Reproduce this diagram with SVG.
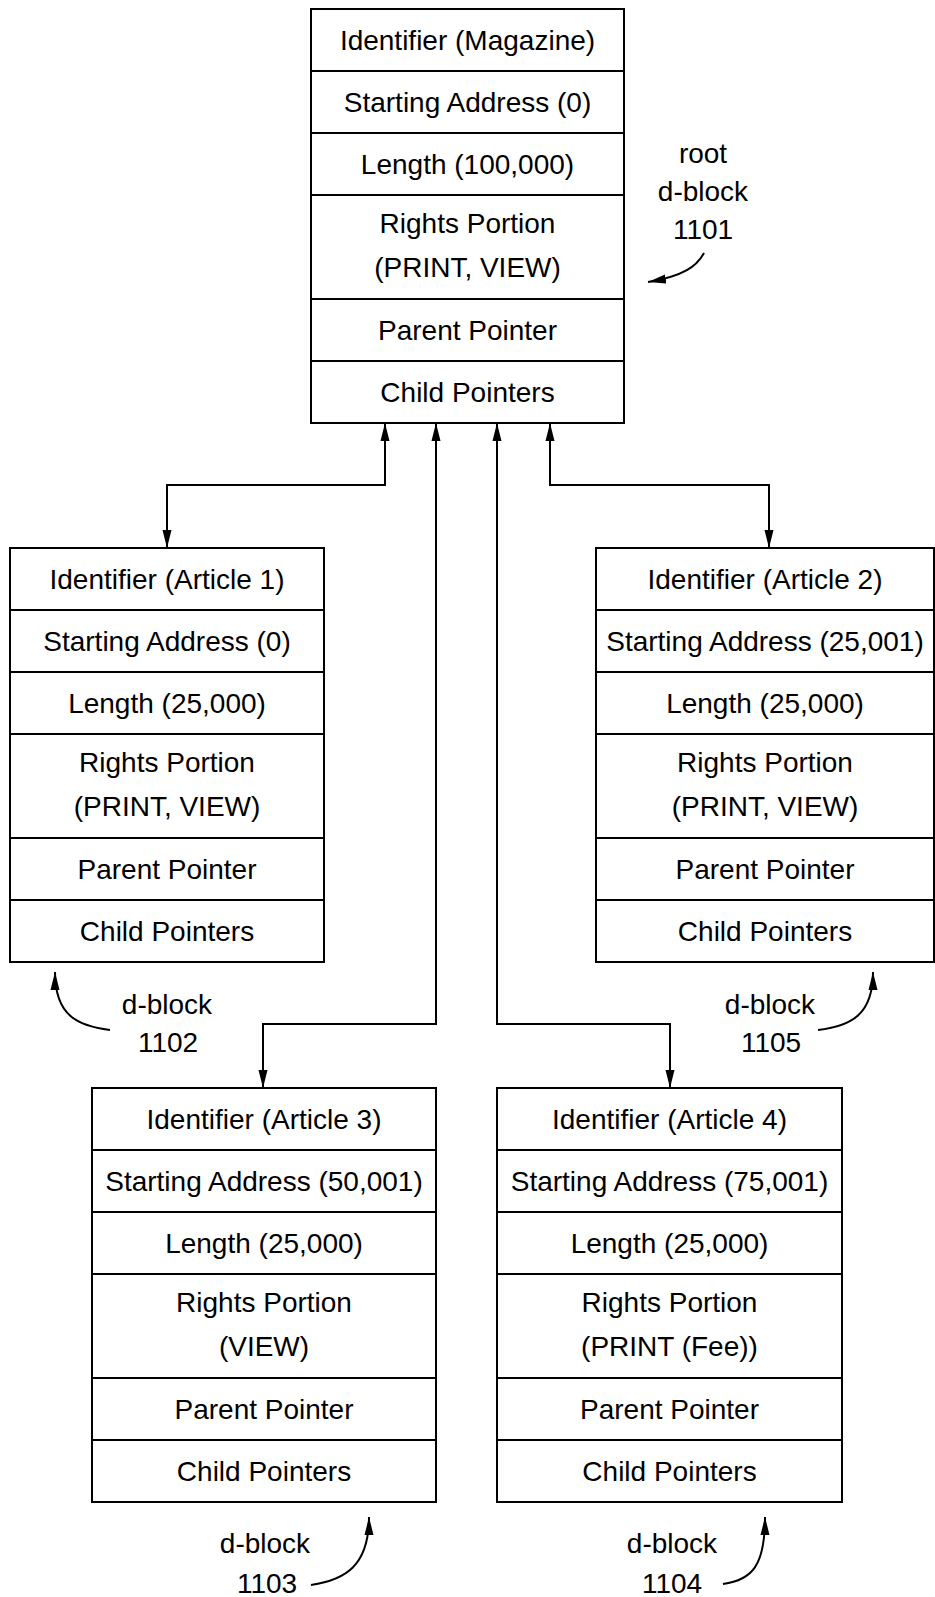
<svg xmlns="http://www.w3.org/2000/svg" width="935" height="1597" viewBox="0 0 935 1597">
<style>
.box{fill:#fff;stroke:#000;stroke-width:2}
.sep{stroke:#000;stroke-width:2}
.t{font-family:"Liberation Sans",Arial,sans-serif;font-size:28px;fill:#000;text-anchor:middle}
.wire{fill:none;stroke:#000;stroke-width:2}
</style>
<defs>
<marker id="ah" markerUnits="userSpaceOnUse" viewBox="0 0 18 10" markerWidth="18" markerHeight="10" refX="18" refY="5" orient="auto-start-reverse">
<path d="M0,0.5 L18,5 L0,9.5 z" fill="#000"/>
</marker>
</defs>
<rect width="935" height="1597" fill="#fff"/>

<g id="root-1101" transform="translate(311,9)">
<rect class="box" x="0" y="0" width="313" height="414"/>
<path class="sep" d="M0,62 H313 M0,124 H313 M0,186 H313 M0,290 H313 M0,352 H313"/>
<text class="t" x="156.5" y="41">Identifier (Magazine)</text>
<text class="t" x="156.5" y="103">Starting Address (0)</text>
<text class="t" x="156.5" y="165">Length (100,000)</text>
<text class="t" x="156.5" y="224">Rights Portion</text>
<text class="t" x="156.5" y="268">(PRINT, VIEW)</text>
<text class="t" x="156.5" y="331">Parent Pointer</text>
<text class="t" x="156.5" y="393">Child Pointers</text>
</g>

<g id="article1-1102" transform="translate(10,548)">
<rect class="box" x="0" y="0" width="314" height="414"/>
<path class="sep" d="M0,62 H314 M0,124 H314 M0,186 H314 M0,290 H314 M0,352 H314"/>
<text class="t" x="157" y="41">Identifier (Article 1)</text>
<text class="t" x="157" y="103">Starting Address (0)</text>
<text class="t" x="157" y="165">Length (25,000)</text>
<text class="t" x="157" y="224">Rights Portion</text>
<text class="t" x="157" y="268">(PRINT, VIEW)</text>
<text class="t" x="157" y="331">Parent Pointer</text>
<text class="t" x="157" y="393">Child Pointers</text>
</g>

<g id="article2-1105" transform="translate(596,548)">
<rect class="box" x="0" y="0" width="338" height="414"/>
<path class="sep" d="M0,62 H338 M0,124 H338 M0,186 H338 M0,290 H338 M0,352 H338"/>
<text class="t" x="169" y="41">Identifier (Article 2)</text>
<text class="t" x="169" y="103">Starting Address (25,001)</text>
<text class="t" x="169" y="165">Length (25,000)</text>
<text class="t" x="169" y="224">Rights Portion</text>
<text class="t" x="169" y="268">(PRINT, VIEW)</text>
<text class="t" x="169" y="331">Parent Pointer</text>
<text class="t" x="169" y="393">Child Pointers</text>
</g>

<g id="article3-1103" transform="translate(92,1088)">
<rect class="box" x="0" y="0" width="344" height="414"/>
<path class="sep" d="M0,62 H344 M0,124 H344 M0,186 H344 M0,290 H344 M0,352 H344"/>
<text class="t" x="172" y="41">Identifier (Article 3)</text>
<text class="t" x="172" y="103">Starting Address (50,001)</text>
<text class="t" x="172" y="165">Length (25,000)</text>
<text class="t" x="172" y="224">Rights Portion</text>
<text class="t" x="172" y="268">(VIEW)</text>
<text class="t" x="172" y="331">Parent Pointer</text>
<text class="t" x="172" y="393">Child Pointers</text>
</g>

<g id="article4-1104" transform="translate(497,1088)">
<rect class="box" x="0" y="0" width="345" height="414"/>
<path class="sep" d="M0,62 H345 M0,124 H345 M0,186 H345 M0,290 H345 M0,352 H345"/>
<text class="t" x="172.5" y="41">Identifier (Article 4)</text>
<text class="t" x="172.5" y="103">Starting Address (75,001)</text>
<text class="t" x="172.5" y="165">Length (25,000)</text>
<text class="t" x="172.5" y="224">Rights Portion</text>
<text class="t" x="172.5" y="268">(PRINT (Fee))</text>
<text class="t" x="172.5" y="331">Parent Pointer</text>
<text class="t" x="172.5" y="393">Child Pointers</text>
</g>

<g id="connectors">
<path class="wire" d="M385,423 V485 H167 V548" marker-start="url(#ah)" marker-end="url(#ah)"/>
<path class="wire" d="M550,423 V485 H769 V548" marker-start="url(#ah)" marker-end="url(#ah)"/>
<path class="wire" d="M436,423 V1024 H263 V1088" marker-start="url(#ah)" marker-end="url(#ah)"/>
<path class="wire" d="M497,423 V1024 H670 V1088" marker-start="url(#ah)" marker-end="url(#ah)"/>
<path class="wire" d="M704,253 C697,266 684,276 648,282" marker-end="url(#ah)"/>
<path class="wire" d="M110,1030 C78,1026 55,1016 55,972" marker-end="url(#ah)"/>
<path class="wire" d="M818,1030 C852,1026 873,1014 873,972" marker-end="url(#ah)"/>
<path class="wire" d="M311,1585 C345,1580 369,1566 369,1517" marker-end="url(#ah)"/>
<path class="wire" d="M723,1584 C752,1580 765,1566 765,1517" marker-end="url(#ah)"/>
</g>

<g id="label-1101">
<text class="t" x="703" y="163">root</text>
<text class="t" x="703" y="201">d-block</text>
<text class="t" x="703" y="239">1101</text>
</g>
<g id="label-1102">
<text class="t" x="167" y="1014">d-block</text>
<text class="t" x="168" y="1052">1102</text>
</g>
<g id="label-1105">
<text class="t" x="770" y="1014">d-block</text>
<text class="t" x="771" y="1052">1105</text>
</g>
<g id="label-1103">
<text class="t" x="265" y="1553">d-block</text>
<text class="t" x="267" y="1593">1103</text>
</g>
<g id="label-1104">
<text class="t" x="672" y="1553">d-block</text>
<text class="t" x="672" y="1593">1104</text>
</g>
</svg>
